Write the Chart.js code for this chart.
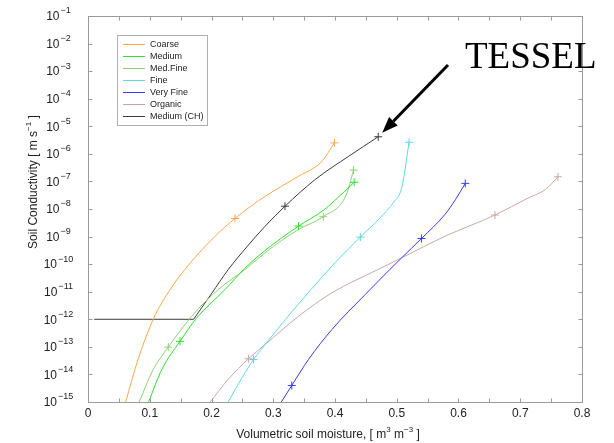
<!DOCTYPE html>
<html>
<head>
<meta charset="utf-8">
<script src="https://cdn.jsdelivr.net/npm/chart.js@4/dist/chart.umd.min.js"></script>
<style>
  html, body { margin: 0; padding: 0; background: #ffffff; }
  canvas { display: block; }
</style>
</head>
<body>
<canvas id="conductivity" width="614" height="443"></canvas>
<script>
// Soil moisture (m3/m3) and log10 of hydraulic conductivity (m/s) per soil type
const coarseTheta = [0.061, 0.081, 0.106, 0.133, 0.157, 0.203, 0.238, 0.287, 0.341, 0.379, 0.399];
const coarseLogK  = [-15, -13.46, -11.98, -10.92, -10.19, -9.05, -8.34, -7.54, -6.81, -6.27, -5.6];
const coarseMarks = [0.238, 0.399];

const mediumTheta = [0.098, 0.12, 0.149, 0.176, 0.222, 0.254, 0.287, 0.341, 0.381, 0.416, 0.431];
const mediumLogK  = [-15, -13.8, -12.8, -11.95, -10.92, -10.15, -9.5, -8.62, -8.05, -7.35, -7.03];
const mediumMarks = [0.149, 0.341, 0.431];

const medFineTheta = [0.083, 0.105, 0.130, 0.168, 0.211, 0.254, 0.287, 0.341, 0.381, 0.418, 0.430];
const medFineLogK  = [-15, -13.85, -13.01, -11.89, -10.92, -10.2, -9.58, -8.74, -8.28, -7.5, -6.59];
const medFineMarks = [0.130, 0.381, 0.430];

const fineTheta = [0.227, 0.25, 0.268, 0.287, 0.32, 0.36, 0.40, 0.441, 0.473, 0.495, 0.508, 0.52];
const fineLogK  = [-15, -14.1, -13.46, -12.91, -12.0, -10.95, -9.95, -9.02, -8.32, -7.75, -7.23, -5.58];
const fineMarks = [0.268, 0.441, 0.52];

const veryFineTheta = [0.313, 0.330, 0.357, 0.395, 0.449, 0.489, 0.508, 0.540, 0.578, 0.595, 0.611];
const veryFineLogK  = [-15, -14.4, -13.46, -12.37, -11.1, -10.19, -9.77, -9.07, -8.2, -7.66, -7.07];
const veryFineMarks = [0.330, 0.540, 0.611];

const organicTheta = [0.198, 0.227, 0.260, 0.287, 0.341, 0.395, 0.470, 0.508, 0.578, 0.659, 0.713, 0.741, 0.761];
const organicLogK  = [-15, -14.18, -13.43, -12.91, -11.89, -11.04, -10.19, -9.77, -8.99, -8.22, -7.6, -7.29, -6.83];
const organicMarks = [0.260, 0.659, 0.761];

// Medium (CH): flat cut-off at 1e-12 up to the kink, then the curve
const chTheta = [0.01, 0.171, 0.2, 0.227, 0.257, 0.287, 0.319, 0.368, 0.422, 0.47];
const chLogK  = [-12, -12, -11.07, -10.2, -9.38, -8.62, -7.9, -6.93, -6.09, -5.38];
const chMarks = [0.319, 0.47];
const chKink = 1;

// Axis ticks
const xTickLabels = [0, 0.1, 0.2, 0.3, 0.4, 0.5, 0.6, 0.7, 0.8];
const xMinorTicks = [0.05, 0.15, 0.25, 0.35, 0.45, 0.55, 0.65, 0.75];
const yTickExps = [-1, -2, -3, -4, -5, -6, -7, -8, -9, -10, -11, -12, -13, -14, -15];

const SANS = '"Liberation Sans", Arial, Helvetica, sans-serif';

function series(label, theta, logK, marks, color) {
    return {
        label: label,
        data: theta.map((t, i) => ({ x: t, y: Math.pow(10, logK[i]) })),
        borderColor: color,
        backgroundColor: color,
        borderWidth: 1,
        fill: false,
        cubicInterpolationMode: 'monotone',
        pointStyle: 'cross',
        pointRadius: ctx => marks.includes(theta[ctx.dataIndex]) ? 4 : 0,
        pointBorderColor: color,
        pointBorderWidth: 1,
        pointHoverRadius: 0
    };
}

const chColor = '#3c3c3c';
const chFlat = series('', chTheta.slice(0, chKink + 1), chLogK.slice(0, chKink + 1), [], chColor);
chFlat.inLegend = false;

const datasets = [
    series('Coarse', coarseTheta, coarseLogK, coarseMarks, '#ffa64d'),
    series('Medium', mediumTheta, mediumLogK, mediumMarks, '#2fe02f'),
    series('Med.Fine', medFineTheta, medFineLogK, medFineMarks, '#8fcf78'),
    series('Fine', fineTheta, fineLogK, fineMarks, '#5fdada'),
    series('Very Fine', veryFineTheta, veryFineLogK, veryFineMarks, '#3a3aff'),
    series('Organic', organicTheta, organicLogK, organicMarks, '#c9a7a9'),
    series('Medium (CH)', chTheta.slice(chKink), chLogK.slice(chKink), chMarks, chColor),
    chFlat
];

// Draws "10" with a superscript exponent centred on cx
function drawPower(ctx, exp, cx, cy) {
    ctx.font = '12px ' + SANS;
    const base = '10';
    const wb = ctx.measureText(base).width;
    ctx.font = '9px ' + SANS;
    const sup = '\u2212' + Math.abs(exp);
    const ws = ctx.measureText(sup).width;
    let x = cx - (wb + ws + 1) / 2;
    ctx.textAlign = 'left';
    ctx.textBaseline = 'middle';
    ctx.font = '12px ' + SANS;
    ctx.fillText(base, x, cy + 1);
    ctx.font = '9px ' + SANS;
    ctx.fillText(sup, x + wb + 1, cy - 5);
}

// Frame, inward ticks, tick labels and axis titles
const framePlugin = {
    id: 'frame',
    afterDraw(chart) {
        const { ctx, chartArea: a, scales: { x, y } } = chart;
        const L = a.left + 0.5, R = a.right + 0.5, T = a.top + 0.5, B = a.bottom + 0.5;
        ctx.save();
        ctx.strokeStyle = '#9a9a9a';
        ctx.lineWidth = 1;
        ctx.strokeRect(L, T, R - L, B - T);

        ctx.beginPath();
        xTickLabels.concat(xMinorTicks).forEach(v => {
            const px = Math.round(x.getPixelForValue(v)) + 0.5;
            ctx.moveTo(px, B); ctx.lineTo(px, B - 4);
            ctx.moveTo(px, T); ctx.lineTo(px, T + 4);
        });
        yTickExps.forEach(e => {
            const py = Math.round(y.getPixelForValue(Math.pow(10, e))) + 0.5;
            ctx.moveTo(L, py); ctx.lineTo(L + 4, py);
            ctx.moveTo(R, py); ctx.lineTo(R - 4, py);
        });
        ctx.stroke();

        ctx.fillStyle = '#222222';
        ctx.font = '12px ' + SANS;
        ctx.textAlign = 'center';
        ctx.textBaseline = 'middle';
        xTickLabels.forEach(v => {
            ctx.fillText(String(v), x.getPixelForValue(v), 414);
        });
        yTickExps.forEach(e => {
            drawPower(ctx, e, 58.5, y.getPixelForValue(Math.pow(10, e)));
        });

        // x title
        ctx.textBaseline = 'middle';
        const p1 = 'Volumetric soil moisture, [ m', p2 = ' m', p3 = ' ]';
        ctx.font = '12px ' + SANS;
        const w1 = ctx.measureText(p1).width, w2 = ctx.measureText(p2).width, w3 = ctx.measureText(p3).width;
        ctx.font = '8px ' + SANS;
        const s1 = '3', s2 = '\u22123';
        const ws1 = ctx.measureText(s1).width, ws2 = ctx.measureText(s2).width;
        let tx = 328 - (w1 + ws1 + w2 + ws2 + w3) / 2;
        const ty = 435;
        ctx.textAlign = 'left';
        ctx.font = '12px ' + SANS; ctx.fillText(p1, tx, ty); tx += w1;
        ctx.font = '8px ' + SANS; ctx.fillText(s1, tx, ty - 5); tx += ws1;
        ctx.font = '12px ' + SANS; ctx.fillText(p2, tx, ty); tx += w2;
        ctx.font = '8px ' + SANS; ctx.fillText(s2, tx, ty - 5); tx += ws2;
        ctx.font = '12px ' + SANS; ctx.fillText(p3, tx, ty);

        // y title, rotated
        ctx.translate(34, 182);
        ctx.rotate(-Math.PI / 2);
        const q1 = 'Soil Conductivity [ m s', q2 = ' ]';
        ctx.font = '12px ' + SANS;
        const wq1 = ctx.measureText(q1).width, wq2 = ctx.measureText(q2).width;
        ctx.font = '8px ' + SANS;
        const sq = '\u22121';
        const wsq = ctx.measureText(sq).width;
        let qx = -(wq1 + wsq + wq2) / 2;
        ctx.font = '12px ' + SANS; ctx.fillText(q1, qx, 0); qx += wq1;
        ctx.font = '8px ' + SANS; ctx.fillText(sq, qx, -5); qx += wsq;
        ctx.font = '12px ' + SANS; ctx.fillText(q2, qx, 0);
        ctx.restore();
    }
};

// Boxed legend in the upper left of the plot
const legendPlugin = {
    id: 'boxLegend',
    afterDraw(chart) {
        const ctx = chart.ctx;
        ctx.save();
        ctx.fillStyle = '#ffffff';
        ctx.fillRect(117.5, 35.5, 90, 90);
        ctx.strokeStyle = '#b0b0b0';
        ctx.lineWidth = 1;
        ctx.strokeRect(117.5, 35.5, 90, 90);
        ctx.font = '9px ' + SANS;
        ctx.textAlign = 'left';
        ctx.textBaseline = 'middle';
        chart.data.datasets.filter(ds => ds.inLegend !== false).forEach((ds, i) => {
            const yy = 44.5 + i * 12;
            ctx.strokeStyle = ds.borderColor;
            ctx.beginPath();
            ctx.moveTo(123, yy);
            ctx.lineTo(145, yy);
            ctx.stroke();
            ctx.fillStyle = '#222222';
            ctx.fillText(ds.label, 150, yy);
        });
        ctx.restore();
    }
};

// TESSEL label with an arrow onto the Medium (CH) curve end
const tesselPlugin = {
    id: 'tessel',
    afterDraw(chart) {
        const { ctx, scales: { x, y } } = chart;
        const last = chTheta.length - 1;
        const tipX = x.getPixelForValue(chTheta[last]) + 4;
        const tipY = y.getPixelForValue(Math.pow(10, chLogK[last])) - 4;
        const fromX = 448, fromY = 65;
        const ang = Math.atan2(tipY - fromY, tipX - fromX);
        const headLen = 16, headW = 6;
        const bx = tipX - headLen * Math.cos(ang), by = tipY - headLen * Math.sin(ang);
        ctx.save();
        ctx.strokeStyle = '#000000';
        ctx.fillStyle = '#000000';
        ctx.lineWidth = 3;
        ctx.beginPath();
        ctx.moveTo(fromX, fromY);
        ctx.lineTo(bx, by);
        ctx.stroke();
        ctx.beginPath();
        ctx.moveTo(tipX, tipY);
        ctx.lineTo(bx + headW * Math.sin(ang), by - headW * Math.cos(ang));
        ctx.lineTo(bx - headW * Math.sin(ang), by + headW * Math.cos(ang));
        ctx.closePath();
        ctx.fill();
        ctx.font = '37px "Liberation Serif", "Times New Roman", serif';
        ctx.textAlign = 'left';
        ctx.textBaseline = 'alphabetic';
        ctx.fillText('TESSEL', 465, 68);
        ctx.restore();
    }
};

new Chart(document.getElementById('conductivity'), {
    type: 'line',
    data: { datasets: datasets },
    options: {
        responsive: false,
        animation: false,
        devicePixelRatio: 1,
        layout: { padding: { top: 16, right: 32, left: 0, bottom: 0 } },
        plugins: {
            legend: { display: false },
            tooltip: { enabled: false }
        },
        scales: {
            x: {
                type: 'linear',
                min: 0,
                max: 0.8,
                grid: { display: false },
                border: { display: false },
                ticks: { display: false },
                afterFit(scale) { scale.height = 41; }
            },
            y: {
                type: 'logarithmic',
                min: 1e-15,
                max: 1e-1,
                grid: { display: false },
                border: { display: false },
                ticks: { display: false },
                afterFit(scale) { scale.width = 88; }
            }
        }
    },
    plugins: [framePlugin, legendPlugin, tesselPlugin]
});
</script>
</body>
</html>
